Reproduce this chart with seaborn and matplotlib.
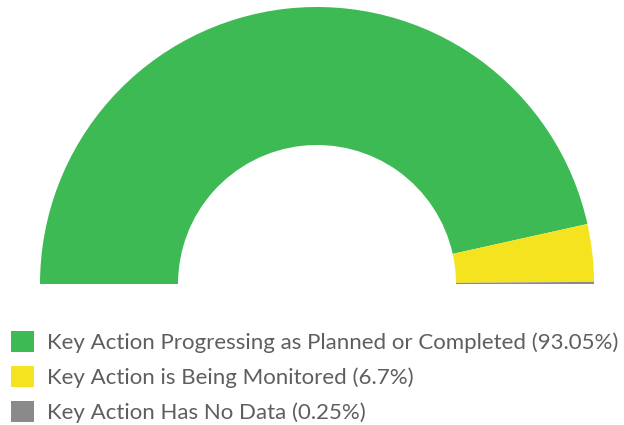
import matplotlib
matplotlib.use("Agg")
import matplotlib.pyplot as plt
import seaborn as sns
from matplotlib.patches import Patch

categories = ["Key Action Progressing as Planned or Completed",
              "Key Action is Being Monitored",
              "Key Action Has No Data"]
values = [93.05, 6.7, 0.25]
colors = ["#3dba53", "#f6e31f", "#8a8a8a"]

sns.set_theme(style="white")
plt.rcParams['font.family'] = ['Lato', 'DejaVu Sans']

fig = plt.figure(figsize=(6.24, 4.25), dpi=100)
ax = fig.add_axes([0, 0, 1, 1])

total = sum(values)
wedges, _ = ax.pie(values + [total], colors=colors + ["none"],
                   startangle=180, counterclock=False,
                   center=(317, 425 - 284), radius=277,
                   wedgeprops=dict(width=138, linewidth=0, antialiased=True))
wedges[-1].set_visible(False)
ax.set_xlim(0, 624)
ax.set_ylim(0, 425)
ax.set_aspect("auto")
ax.axis("off")

handles = [Patch(facecolor=c, edgecolor="none") for c in colors]
labels = [f"{c} ({v:g}%)" for c, v in zip(categories, values)]
leg = ax.legend(handles, labels, loc="upper left",
                bbox_to_anchor=(11 / 624, 1 - 331 / 425),
                bbox_transform=fig.transFigure,
                frameon=False, fontsize=16, handlelength=1.05, handleheight=1.05,
                handletextpad=0.55, labelspacing=0.6, borderaxespad=0, borderpad=0)
for t in leg.get_texts():
    t.set_color("#5e5e5e")

fig.savefig("out.png", dpi=100, facecolor="white")
